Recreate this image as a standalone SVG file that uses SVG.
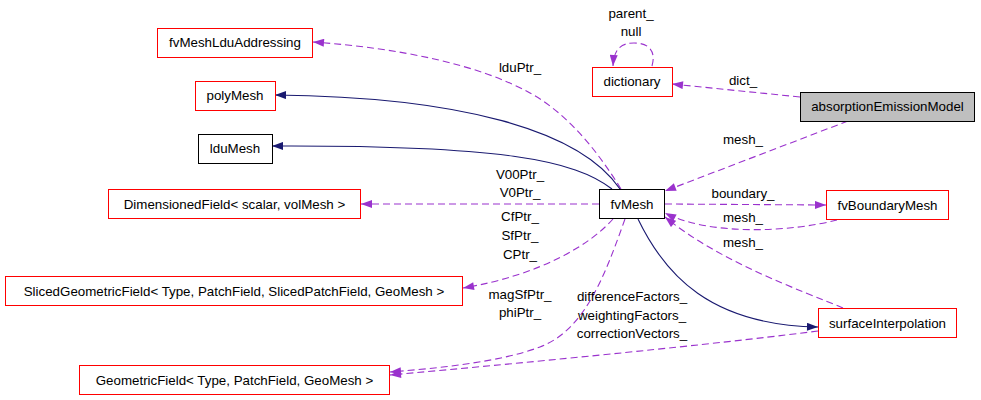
<svg xmlns="http://www.w3.org/2000/svg" width="981" height="400" viewBox="0 0 981 400">
<style>
  .n rect { fill: #ffffff; stroke: #ff0000; stroke-width: 1; }
  .n.k rect { stroke: #000000; }
  .n.g rect { fill: #bfbfbf; stroke: #000000; }
  text { font-family: "Liberation Sans", Arial, sans-serif; font-size: 13.33px; fill: #000000; text-anchor: middle; }
  .d { fill: none; stroke: #9a32cd; stroke-width: 1.1; stroke-dasharray: 7,4; marker-end: url(#ap); }
  .s { fill: none; stroke: #191970; stroke-width: 1.1; marker-end: url(#an); }
</style>
<defs>
  <marker id="ap" viewBox="0 0 11 8" refX="11" refY="4" markerWidth="12" markerHeight="8" markerUnits="userSpaceOnUse" orient="auto">
    <path d="M0,0 L11,4 L0,8 z" fill="#9a32cd"/>
  </marker>
  <marker id="an" viewBox="0 0 11 8" refX="11" refY="4" markerWidth="12" markerHeight="8" markerUnits="userSpaceOnUse" orient="auto">
    <path d="M0,0 L11,4 L0,8 z" fill="#191970"/>
  </marker>
</defs>
<rect width="981" height="400" fill="#ffffff"/>
<g id="connectors">
  <path class="d" d="M652,66 C656,52 650,43 634,43 C620,43 614,50 613,66"/>
  <path class="d" d="M800,97 L672,84"/>
  <path class="d" d="M848,121 L665,191"/>
  <path class="d" d="M621,189 C600,155 570,115 530,93 C480,65 400,48 313,42"/>
  <path class="s" d="M620,189 C580,130 460,97 275,95"/>
  <path class="s" d="M612,189 C575,160 500,145 272,146"/>
  <path class="d" d="M599,204 L361,204"/>
  <path class="d" d="M613,219 C590,245 540,275 463,288"/>
  <path class="d" d="M625,219 C605,275 585,330 540,347 C500,362 440,368 390,372"/>
  <path class="d" d="M818,331 C740,341 600,356 390,375"/>
  <path class="d" d="M665,204 L826,205"/>
  <path class="d" d="M837,220 C790,232 710,236 665,213"/>
  <path class="d" d="M843,308 C800,290 720,262 665,217"/>
  <path class="s" d="M638,219 C665,275 710,325 818,327"/>
  <text x="631" y="18">parent_</text>
  <text x="631" y="36">null</text>
  <text x="520" y="72">lduPtr_</text>
  <text x="743" y="85">dict_</text>
  <text x="743" y="144">mesh_</text>
  <text x="520" y="179">V00Ptr_</text>
  <text x="520" y="197">V0Ptr_</text>
  <text x="520" y="221">CfPtr_</text>
  <text x="520" y="240">SfPtr_</text>
  <text x="520" y="259">CPtr_</text>
  <text x="520" y="299">magSfPtr_</text>
  <text x="520" y="317">phiPtr_</text>
  <text x="743" y="198">boundary_</text>
  <text x="743" y="222">mesh_</text>
  <text x="743" y="247">mesh_</text>
  <text x="632" y="301">differenceFactors_</text>
  <text x="632" y="320">weightingFactors_</text>
  <text x="632" y="338">correctionVectors_</text>
</g>
<g id="fvMeshLduAddressing" class="n"><rect x="157.5" y="28.5" width="155" height="29"/><text x="235" y="46.5">fvMeshLduAddressing</text></g>
<g id="polyMesh" class="n"><rect x="195.5" y="81.5" width="80" height="29"/><text x="235" y="100">polyMesh</text></g>
<g id="lduMesh" class="n k"><rect x="198.5" y="134.5" width="74" height="29"/><text x="235" y="153">lduMesh</text></g>
<g id="dictionary" class="n"><rect x="592.5" y="67.5" width="80" height="29"/><text x="632" y="86">dictionary</text></g>
<g id="absorptionEmissionModel" class="n g"><rect x="800.5" y="92.5" width="174" height="29"/><text x="887.5" y="111">absorptionEmissionModel</text></g>
<g id="DimensionedField" class="n"><rect x="108.5" y="189.5" width="252" height="29"/><text x="234.5" y="208.5">DimensionedField&lt; scalar, volMesh &gt;</text></g>
<g id="SlicedGeometricField" class="n"><rect x="5.5" y="276.5" width="457" height="29"/><text x="234" y="295.5">SlicedGeometricField&lt; Type, PatchField, SlicedPatchField, GeoMesh &gt;</text></g>
<g id="GeometricField" class="n"><rect x="79.5" y="365.5" width="310" height="29"/><text x="234.5" y="384.5">GeometricField&lt; Type, PatchField, GeoMesh &gt;</text></g>
<g id="fvMesh" class="n k"><rect x="599.5" y="189.5" width="65" height="29"/><text x="632" y="208.5">fvMesh</text></g>
<g id="fvBoundaryMesh" class="n"><rect x="826.5" y="190.5" width="122" height="29"/><text x="887.5" y="209.5">fvBoundaryMesh</text></g>
<g id="surfaceInterpolation" class="n"><rect x="818.5" y="308.5" width="138" height="29"/><text x="887.5" y="327.5">surfaceInterpolation</text></g>
</svg>
